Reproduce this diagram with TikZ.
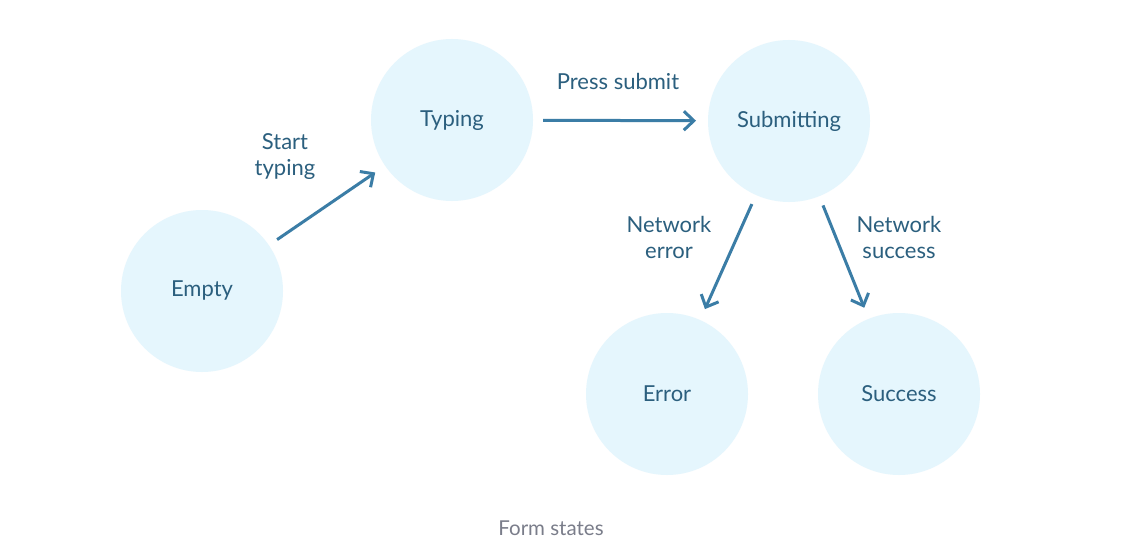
\documentclass[tikz,border=0pt]{standalone}
\usepackage{fontspec}
\setmainfont{Lato}
\usetikzlibrary{arrows.meta}
\definecolor{statefill}{HTML}{E5F6FD}
\definecolor{statetext}{HTML}{2B5F7E}
\definecolor{edgeblue}{HTML}{3B7DA6}
\definecolor{captiongray}{HTML}{7A7D8A}
\tikzset{
  state/.style = {circle,fill=statefill,minimum size=162pt,inner sep=0pt,outer sep=0pt,
    text=statetext,font=\fontsize{22}{26}\selectfont},
  trans/.style = {-{Straight Barb[length=10pt,width=19pt,line width=3pt]},line width=3pt,
    edgeblue,shorten <=10pt,shorten >=12pt},
  translabel/.style = {text=statetext,align=center,font=\fontsize{22}{26}\selectfont}
}

\begin{document}
\begin{tikzpicture}[x=1pt,y=-1pt]
  \useasboundingbox[fill=white] (0,0) rectangle (1131,556);
  % states
  \node[state] (empty)  at (202,291) {Empty};
  \node[state] (typing) at (452,120) {Typing};
  \node[state] (submit) at (789,121) {Submitting};
  \node[state] (error)  at (667,394) {Error};
  \node[state] (success) at (899,394) {Success};
  % transitions
  \draw[trans] (empty) -- (typing);
  \draw[trans] (typing) -- (submit);
  \draw[trans] (submit) -- (error);
  \draw[trans] (submit) -- (success);
  \node[translabel] (lstart)  at (285,157) {Start\\typing};
  \node[translabel] (lpress)  at (618,81)  {Press submit};
  \node[translabel] (lerror)  at (669,237) {Network\\error};
  \node[translabel] (lsucc)   at (899,237) {Network\\success};
  % caption
  \node[text=captiongray,font=\fontsize{20.5}{24}\selectfont] (caption) at (551,528) {Form states};
\end{tikzpicture}
\end{document}
